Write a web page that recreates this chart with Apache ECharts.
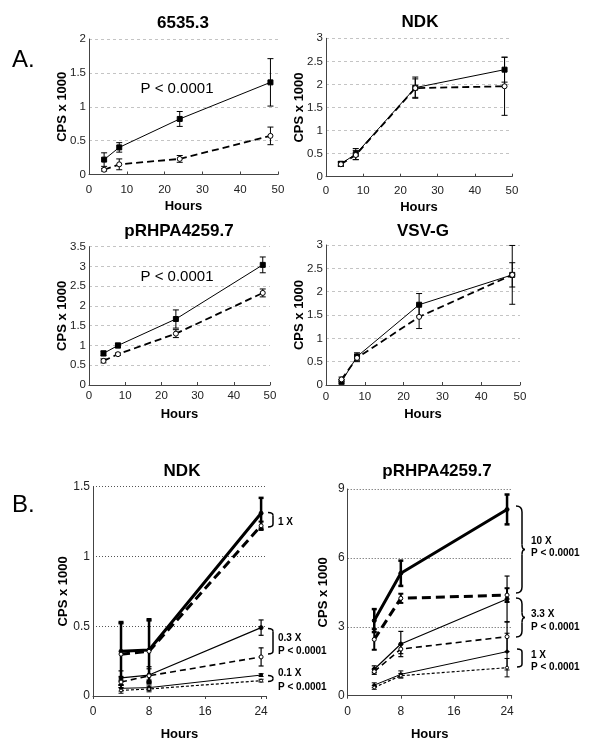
<!DOCTYPE html>
<html><head><meta charset="utf-8">
<script src="https://cdn.jsdelivr.net/npm/echarts@6/dist/echarts.min.js"></script>
<style>html,body{margin:0;padding:0;background:#fff}#c{width:600px;height:754px}</style>
</head><body><div id="c"></div>
<script>
// ---- data ----
const hoursA = [4, 8, 24, 48];
const hoursB = [4, 8, 24];
const ticksHoursA = [0, 10, 20, 30, 40, 50];
const ticksHoursB = [0, 8, 16, 24];

// A. 6535.3
const a1Solid = [0.22, 0.40, 0.82, 1.36];
const a1SolidErr = [0.10, 0.07, 0.11, 0.35];
const a1Dashed = [0.07, 0.15, 0.23, 0.57];
const a1DashedErr = [0.02, 0.08, 0.05, 0.13];
// A. NDK
const a2Solid = [0.28, 0.49, 1.93, 2.32];
const a2SolidErr = [0.05, 0.12, 0.23, 0.27];
const a2Dashed = [0.27, 0.47, 1.92, 1.96];
const a2DashedErr = [0.04, 0.10, 0.20, 0.63];
// A. pRHPA4259.7
const a3Solid = [0.80, 1.00, 1.67, 3.04];
const a3SolidErr = [0.06, 0.06, 0.23, 0.20];
const a3Dashed = [0.61, 0.78, 1.30, 2.33];
const a3DashedErr = [0.05, 0.03, 0.10, 0.10];
// A. VSV-G
const a4Solid = [0.07, 0.61, 1.72, 2.36];
const a4SolidErr = [0.05, 0.08, 0.24, 0.26];
const a4Dashed = [0.12, 0.58, 1.46, 2.36];
const a4DashedErr = [0.05, 0.08, 0.25, 0.63];

// B. NDK
const b1ThickSolid = [0.32, 0.33, 1.31];
const b1ThickSolidErr = [0.21, 0.22, 0.11];
const b1ThickDashed = [0.30, 0.32, 1.22];
const b1ThickDashedErr = [0.22, 0.22, 0.03];
const b1MedSolid = [0.13, 0.15, 0.49];
const b1MedSolidErr = [0.05, 0.06, 0.055];
const b1MedDashed = [0.10, 0.145, 0.28];
const b1MedDashedErr = [0.04, 0.05, 0.065];
const b1ThinSolid = [0.055, 0.06, 0.15];
const b1ThinSolidErr = [0.02, 0.02, 0.01];
const b1ThinDotted = [0.04, 0.05, 0.11];
const b1ThinDottedErr = [0.02, 0.02, 0.01];

// B. pRHPA4259.7
const b2ThickSolid = [3.27, 5.33, 8.11];
const b2ThickSolidErr = [0.50, 0.55, 0.65];
const b2ThickDashed = [2.45, 4.24, 4.38];
const b2ThickDashedErr = [0.45, 0.20, 0.30];
const b2MedSolid = [1.15, 2.25, 4.21];
const b2MedSolidErr = [0.15, 0.55, 1.00];
const b2MedDashed = [1.05, 2.03, 2.57];
const b2MedDashedErr = [0.12, 0.20, 0.65];
const b2ThinSolid = [0.46, 0.93, 1.92];
const b2ThinSolidErr = [0.10, 0.15, 0.80];
const b2ThinDotted = [0.36, 0.87, 1.22];
const b2ThinDottedErr = [0.08, 0.10, 0.40];

// ---- helpers ----
const FONT = '"Liberation Sans", Arial, Helvetica, sans-serif';
function pairs(xs, ys) { return xs.map((x, i) => [x, ys[i]]); }
function errData(xs, ys, es) { return xs.map((x, i) => [x, ys[i] - es[i], ys[i] + es[i]]); }
function errSeries(idx, xs, ys, es, lw, cap) {
  return {
    type: 'custom', xAxisIndex: idx, yAxisIndex: idx, z: 3,
    encode: { x: 0, y: [1, 2] },
    data: errData(xs, ys, es),
    renderItem: function (params, api) {
      const x = api.value(0);
      const p1 = api.coord([x, api.value(1)]);
      const p2 = api.coord([x, api.value(2)]);
      const st = { stroke: '#000', lineWidth: lw };
      return { type: 'group', children: [
        { type: 'line', shape: { x1: p1[0], y1: p1[1], x2: p2[0], y2: p2[1] }, style: st },
        { type: 'line', shape: { x1: p1[0] - cap, y1: p1[1], x2: p1[0] + cap, y2: p1[1] }, style: st },
        { type: 'line', shape: { x1: p2[0] - cap, y1: p2[1], x2: p2[0] + cap, y2: p2[1] }, style: st }
      ] };
    }
  };
}
function lineSeries(idx, xs, ys, opt) {
  return {
    type: 'line', xAxisIndex: idx, yAxisIndex: idx, z: 4,
    data: pairs(xs, ys), animation: false,
    symbol: opt.symbol, symbolSize: opt.size,
    itemStyle: { color: opt.fill, borderColor: '#000', borderWidth: 1 },
    lineStyle: { color: '#000', width: opt.width, type: opt.type }
  };
}
const solidA = { symbol: 'rect', size: 5, fill: '#000', width: 1, type: 'solid' };
const dashedA = { symbol: 'circle', size: 5, fill: '#fff', width: 1.8, type: [7, 4] };

// ---- layout ----
const grids = [
  { left: 89, width: 189, top: 39, height: 135.5 },
  { left: 326, width: 186, top: 38.3, height: 138.4 },
  { left: 89, width: 181, top: 246.7, height: 138.3 },
  { left: 326, width: 194, top: 245, height: 140 },
  { left: 93, width: 173, top: 486.7, height: 209.3 },
  { left: 347.7, width: 164, top: 489, height: 206.7 }
];
const yMax = [2, 3, 3.5, 3, 1.5, 9];
const yInt = [0.5, 0.5, 0.5, 0.5, 0.5, 3];
const xLabelMargin = [9, 8, 5, 6, 10, 10];
const xNameGap = [25, 24, 23, 23, 32, 32];
const yNameGap = [20.5, 20, 20.5, 20, 23.5, 18];

const xAxes = grids.map((g, i) => {
  const isA = i < 4;
  return {
    type: 'value', gridIndex: i, min: 0,
    max: isA ? ticksHoursA[ticksHoursA.length - 1] : 24.7,
    interval: isA ? 10 : 8,
    name: 'Hours', nameLocation: 'middle', nameGap: xNameGap[i], nameMoveOverlap: false,
    nameTextStyle: { fontFamily: FONT, fontWeight: 'bold', fontSize: 13, color: '#000' },
    axisLine: { lineStyle: { color: '#444', width: 1 } },
    axisTick: { show: true, inside: isA, length: 3, lineStyle: { color: '#444' } },
    splitLine: { show: false },
    axisLabel: {
      fontFamily: FONT, fontSize: isA ? 11.5 : 12, color: '#222', margin: xLabelMargin[i],
      formatter: function (v) {
        const t = isA ? ticksHoursA : ticksHoursB;
        return t.indexOf(v) >= 0 ? String(v) : '';
      }
    }
  };
});
const yAxes = grids.map((g, i) => {
  const isA = i < 4;
  return {
    type: 'value', gridIndex: i, min: 0, max: yMax[i], interval: yInt[i],
    name: 'CPS x 1000', nameLocation: 'middle', nameRotate: 90,
    nameGap: yNameGap[i], nameMoveOverlap: false,
    nameTextStyle: { fontFamily: FONT, fontWeight: 'bold', fontSize: 13, color: '#000' },
    axisLine: { show: true, lineStyle: { color: '#444', width: 1 } },
    axisTick: { show: false },
    splitLine: { show: true, lineStyle: isA ? { color: '#c4c4c4', type: [3, 3], width: 1 } : { color: '#555', type: [1, 2], width: 1 } },
    axisLabel: { fontFamily: FONT, fontSize: isA ? 11.5 : 12, color: '#222', margin: 3 }
  };
});

const titleDefs = [
  ['6535.3', 183, 25], ['NDK', 420, 23.5], ['pRHPA4259.7', 179, 233], ['VSV-G', 423, 233],
  ['NDK', 182, 473], ['pRHPA4259.7', 437, 473]
];
const titles = titleDefs.map(t => ({
  text: t[0], left: t[1], top: t[2] - 10, textAlign: 'center', padding: 0,
  textStyle: { fontFamily: FONT, fontWeight: 'bold', fontSize: 17, color: '#000' }
}));

const series = [];
function addA(idx, s, se, d, de) {
  series.push(errSeries(idx, hoursA, s, se, 1, 3));
  series.push(errSeries(idx, hoursA, d, de, 1, 3));
  series.push(lineSeries(idx, hoursA, s, solidA));
  series.push(lineSeries(idx, hoursA, d, dashedA));
}
addA(0, a1Solid, a1SolidErr, a1Dashed, a1DashedErr);
addA(1, a2Solid, a2SolidErr, a2Dashed, a2DashedErr);
addA(2, a3Solid, a3SolidErr, a3Dashed, a3DashedErr);
addA(3, a4Solid, a4SolidErr, a4Dashed, a4DashedErr);

function addB(idx, sets) {
  const styles = [
    { symbol: 'circle', size: 4, fill: '#000', width: 3, type: 'solid', elw: 2.5 },
    { symbol: 'circle', size: 4, fill: '#fff', width: 3, type: [9, 5], elw: 2 },
    { symbol: 'circle', size: 4, fill: '#000', width: 1.2, type: 'solid', elw: 1.2 },
    { symbol: 'circle', size: 4, fill: '#fff', width: 1.6, type: [6, 4], elw: 1.2 },
    { symbol: 'circle', size: 3, fill: '#000', width: 1, type: 'solid', elw: 1 },
    { symbol: 'circle', size: 3, fill: '#fff', width: 1.2, type: [3, 2], elw: 1 }
  ];
  sets.forEach((s, k) => {
    series.push(errSeries(idx, hoursB, s[0], s[1], styles[k].elw, 2.5));
  });
  sets.forEach((s, k) => {
    series.push(lineSeries(idx, hoursB, s[0], styles[k]));
  });
}
addB(4, [[b1ThickSolid, b1ThickSolidErr], [b1ThickDashed, b1ThickDashedErr], [b1MedSolid, b1MedSolidErr],
  [b1MedDashed, b1MedDashedErr], [b1ThinSolid, b1ThinSolidErr], [b1ThinDotted, b1ThinDottedErr]]);
addB(5, [[b2ThickSolid, b2ThickSolidErr], [b2ThickDashed, b2ThickDashedErr], [b2MedSolid, b2MedSolidErr],
  [b2MedDashed, b2MedDashedErr], [b2ThinSolid, b2ThinSolidErr], [b2ThinDotted, b2ThinDottedErr]]);

// ---- annotations ----
const STROKE = { stroke: '#000', lineWidth: 1.5, fill: null };
function txt(x, y, s, size, weight, align) {
  return { type: 'text', x: x, y: y, style: { text: s, fontFamily: FONT, fontSize: size, fontWeight: weight || 'normal',
    fill: '#000', align: align || 'left', verticalAlign: 'middle' } };
}
function seg(x1, y1, x2, y2) { return { type: 'line', shape: { x1, y1, x2, y2 }, style: STROKE }; }
function qc(x1, y1, cx, cy, x2, y2) {
  return { type: 'bezierCurve', shape: { x1, y1, x2, y2, cpx1: cx, cpy1: cy }, style: STROKE };
}
function sqBracket(x0, x1, y0, y1) {
  return { type: 'group', children: [
    qc(x0, y0, x1, y0, x1, y0 + 3), seg(x1, y0 + 3, x1, y1 - 3), qc(x1, y1 - 3, x1, y1, x0, y1)
  ] };
}
function curly(x0, x1, y0, y1) {
  const m = (y0 + y1) / 2, x2 = x1 + 3;
  return { type: 'group', children: [
    qc(x0, y0, x1, y0, x1, y0 + 6), seg(x1, y0 + 6, x1, m - 5), qc(x1, m - 5, x1, m, x2, m),
    qc(x2, m, x1, m, x1, m + 5), seg(x1, m + 5, x1, y1 - 6), qc(x1, y1 - 6, x1, y1, x0, y1)
  ] };
}
const B = 'bold';
const graphic = [
  txt(12, 60, 'A.', 24),
  txt(12, 505, 'B.', 24),
  txt(177, 89, 'P < 0.0001', 15, 'normal', 'center'),
  txt(177, 277, 'P < 0.0001', 15, 'normal', 'center'),
  sqBracket(268, 273, 512.5, 527),
  txt(278, 522, '1 X', 10, B),
  sqBracket(268, 273, 628.5, 654),
  txt(278, 638, '0.3 X', 10, B),
  txt(278, 651, 'P < 0.0001', 10, B),
  sqBracket(268, 273, 675.5, 681.5),
  txt(278, 673.5, '0.1 X', 10, B),
  txt(278, 687, 'P < 0.0001', 10, B),
  curly(516, 522, 506, 593),
  txt(531, 541.5, '10 X', 10, B),
  txt(531, 553.5, 'P < 0.0001', 10, B),
  curly(516, 522, 598, 637),
  txt(531, 614, '3.3 X', 10, B),
  txt(531, 627, 'P < 0.0001', 10, B),
  sqBracket(517, 522, 649, 667),
  txt(531, 655, '1 X', 10, B),
  txt(531, 667, 'P < 0.0001', 10, B)
];

const chart = echarts.init(document.getElementById('c'), null, { renderer: 'canvas' });
chart.setOption({
  backgroundColor: '#fff', animation: false,
  title: titles, grid: grids, xAxis: xAxes, yAxis: yAxes, series: series,
  graphic: { elements: graphic }
});
</script></body></html>
